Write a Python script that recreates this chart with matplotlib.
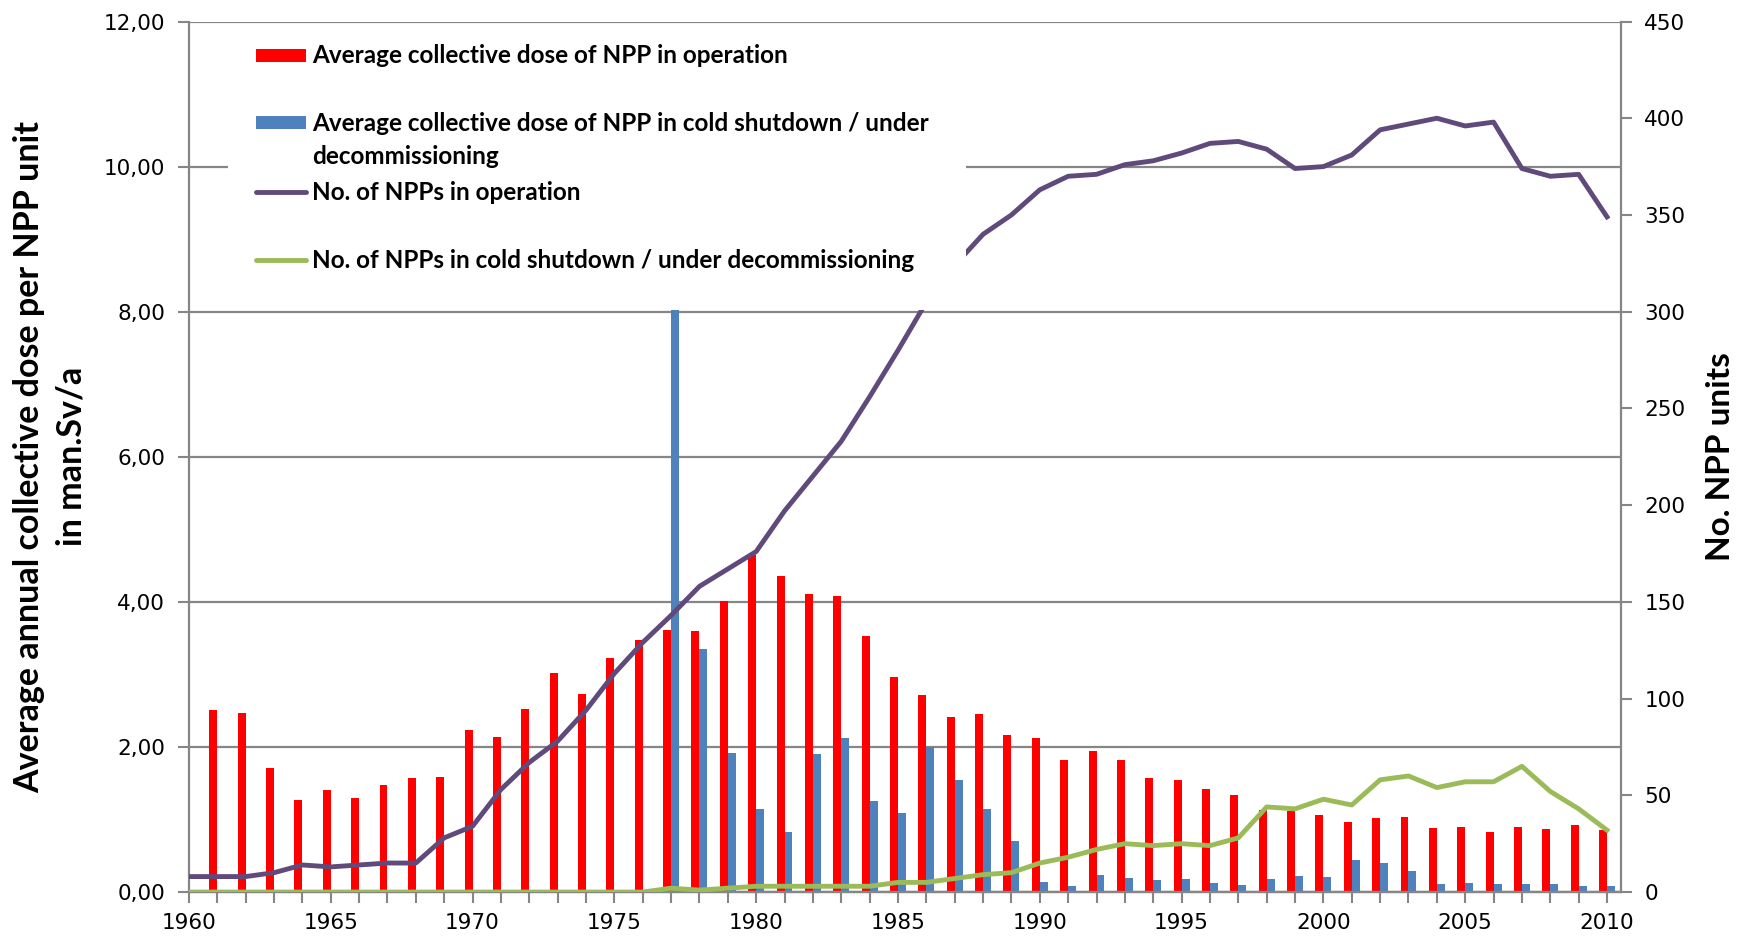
import matplotlib
matplotlib.use('Agg')

import matplotlib.pyplot as plt
from matplotlib.patches import Rectangle
from matplotlib.lines import Line2D
from matplotlib.ticker import MultipleLocator, FuncFormatter

years = list(range(1960, 2011))

# average collective dose per unit (man.Sv/a), left axis
dose_operation = [0, 2.51, 2.47, 1.71, 1.27, 1.40, 1.29, 1.48, 1.57, 1.58,
                  2.23, 2.14, 2.53, 3.02, 2.73, 3.22, 3.47, 3.61, 3.60, 4.01,
                  4.65, 4.36, 4.11, 4.08, 3.53, 2.97, 2.72, 2.41, 2.45, 2.17,
                  2.12, 1.82, 1.94, 1.82, 1.57, 1.54, 1.42, 1.34, 1.13, 1.12,
                  1.06, 0.96, 1.02, 1.03, 0.88, 0.89, 0.83, 0.89, 0.87, 0.92,
                  0.86]
dose_shutdown = [0, 0, 0, 0, 0, 0, 0, 0, 0, 0,
                 0, 0, 0, 0, 0, 0, 0, 8.9, 3.35, 1.91,
                 1.15, 0.83, 1.90, 2.13, 1.26, 1.09, 2.00, 1.54, 1.14, 0.70,
                 0.14, 0.08, 0.23, 0.19, 0.16, 0.18, 0.12, 0.10, 0.18, 0.22,
                 0.21, 0.44, 0.40, 0.29, 0.11, 0.12, 0.11, 0.11, 0.11, 0.09,
                 0.09]

# number of units, right axis
npp_operation = [8, 8, 8, 10, 14, 13, 14, 15, 15, 28,
                 34, 53, 67, 78, 94, 113, 129, 143, 158, 167,
                 176, 197, 215, 233, 256, 280, 305, 324, 340, 350,
                 363, 370, 371, 376, 378, 382, 387, 388, 384, 374,
                 375, 381, 394, 397, 400, 396, 398, 374, 370, 371,
                 349]
npp_shutdown = [0, 0, 0, 0, 0, 0, 0, 0, 0, 0,
                0, 0, 0, 0, 0, 0, 0, 2, 1, 2,
                3, 3, 3, 3, 3, 5, 5, 7, 9, 10,
                15, 18, 22, 25, 24, 25, 24, 28, 44, 43,
                48, 45, 58, 60, 54, 57, 57, 65, 52, 43,
                32]

legend_labels = ["Average collective dose of NPP in operation",
                 "Average collective dose of NPP in cold shutdown / under\ndecommissioning",
                 "No. of NPPs in operation",
                 "No. of NPPs in cold shutdown / under decommissioning"]

RED = '#ff0000'
BLUE = '#4f81bd'
PURPLE = '#604a7b'
GREEN = '#9bbb59'
GREY = '#868686'
LABEL_FONT = ['Lato', 'DejaVu Sans']

fig = plt.figure(figsize=(17.46, 9.39), dpi=100)
ax = fig.add_axes([0.1082, 0.0500, 0.8200, 0.9271])
ax2 = ax.twinx()

w = 0.28
ax.bar(years, dose_operation, width=-w, align='edge', color=RED, zorder=2)
ax.bar(years, dose_shutdown, width=w, align='edge', color=BLUE, zorder=2)

ax.set_xlim(1960, 2010.48)
ax.set_ylim(0, 12)
ax.yaxis.set_major_locator(MultipleLocator(2))
ax.yaxis.set_major_formatter(FuncFormatter(lambda v, p: f'{v:.2f}'.replace('.', ',')))
ax.set_xticks(range(1960, 2011, 5))
ax.set_xticks(years, minor=True)
ax.grid(axis='y', color=GREY, lw=1.6, zorder=0)
ax.set_axisbelow(True)

ax2.plot(years, npp_operation, color=PURPLE, lw=3.5, zorder=3)
ax2.plot(years, npp_shutdown, color=GREEN, lw=3.5, zorder=3)
ax2.set_ylim(0, 450)
ax2.yaxis.set_major_locator(MultipleLocator(50))

for a in (ax, ax2):
    a.spines['top'].set_visible(False)
    for s in ('left', 'right', 'bottom'):
        a.spines[s].set_color(GREY)
        a.spines[s].set_linewidth(1.6)
    a.tick_params(which='both', direction='out', length=8, width=1.5,
                  color=GREY, labelsize=15.5, pad=9)
ax.tick_params(axis='x', which='both', pad=7)
ax.spines['right'].set_visible(False)
ax2.spines['left'].set_visible(False)

ax.set_ylabel('Average annual collective dose per NPP unit\nin man.Sv/a',
              family=LABEL_FONT, fontweight='bold', fontsize=24.5,
              va='center', linespacing=1.4)
ax.yaxis.set_label_coords(-0.097, 0.5)
ax2.set_ylabel('No. NPP units', family=LABEL_FONT, fontweight='bold',
               fontsize=24, va='center', rotation=90)
ax2.yaxis.set_label_coords(1.07, 0.5)

# legend box drawn by hand, Excel style (equal slots, wrapped label)
ax2.add_patch(Rectangle((0.0272, 0.669), 0.5155, 0.328, transform=ax2.transAxes,
                        facecolor='white', edgecolor='none', zorder=5))
slots = [0.9614, 0.8835, 0.8042, 0.7263]
handles = ['bar', 'bar', 'line', 'line']
colors = [RED, BLUE, PURPLE, GREEN]
for y, kind, c, lab in zip(slots, handles, colors, legend_labels):
    if kind == 'bar':
        ax2.add_patch(Rectangle((0.0468, y - 0.0075), 0.0349, 0.015,
                                transform=ax2.transAxes, facecolor=c,
                                edgecolor='none', zorder=6))
    else:
        ax2.add_line(Line2D([0.0468, 0.0817], [y, y], transform=ax2.transAxes,
                            color=c, lw=3.5, solid_capstyle='round', zorder=6))
    ax2.text(0.0859, y + 0.0125, lab, transform=ax2.transAxes, ha='left', va='top',
             family=LABEL_FONT, fontweight='bold', fontsize=17.5,
             linespacing=1.5, zorder=7)

plt.savefig('out.png', dpi=100)
